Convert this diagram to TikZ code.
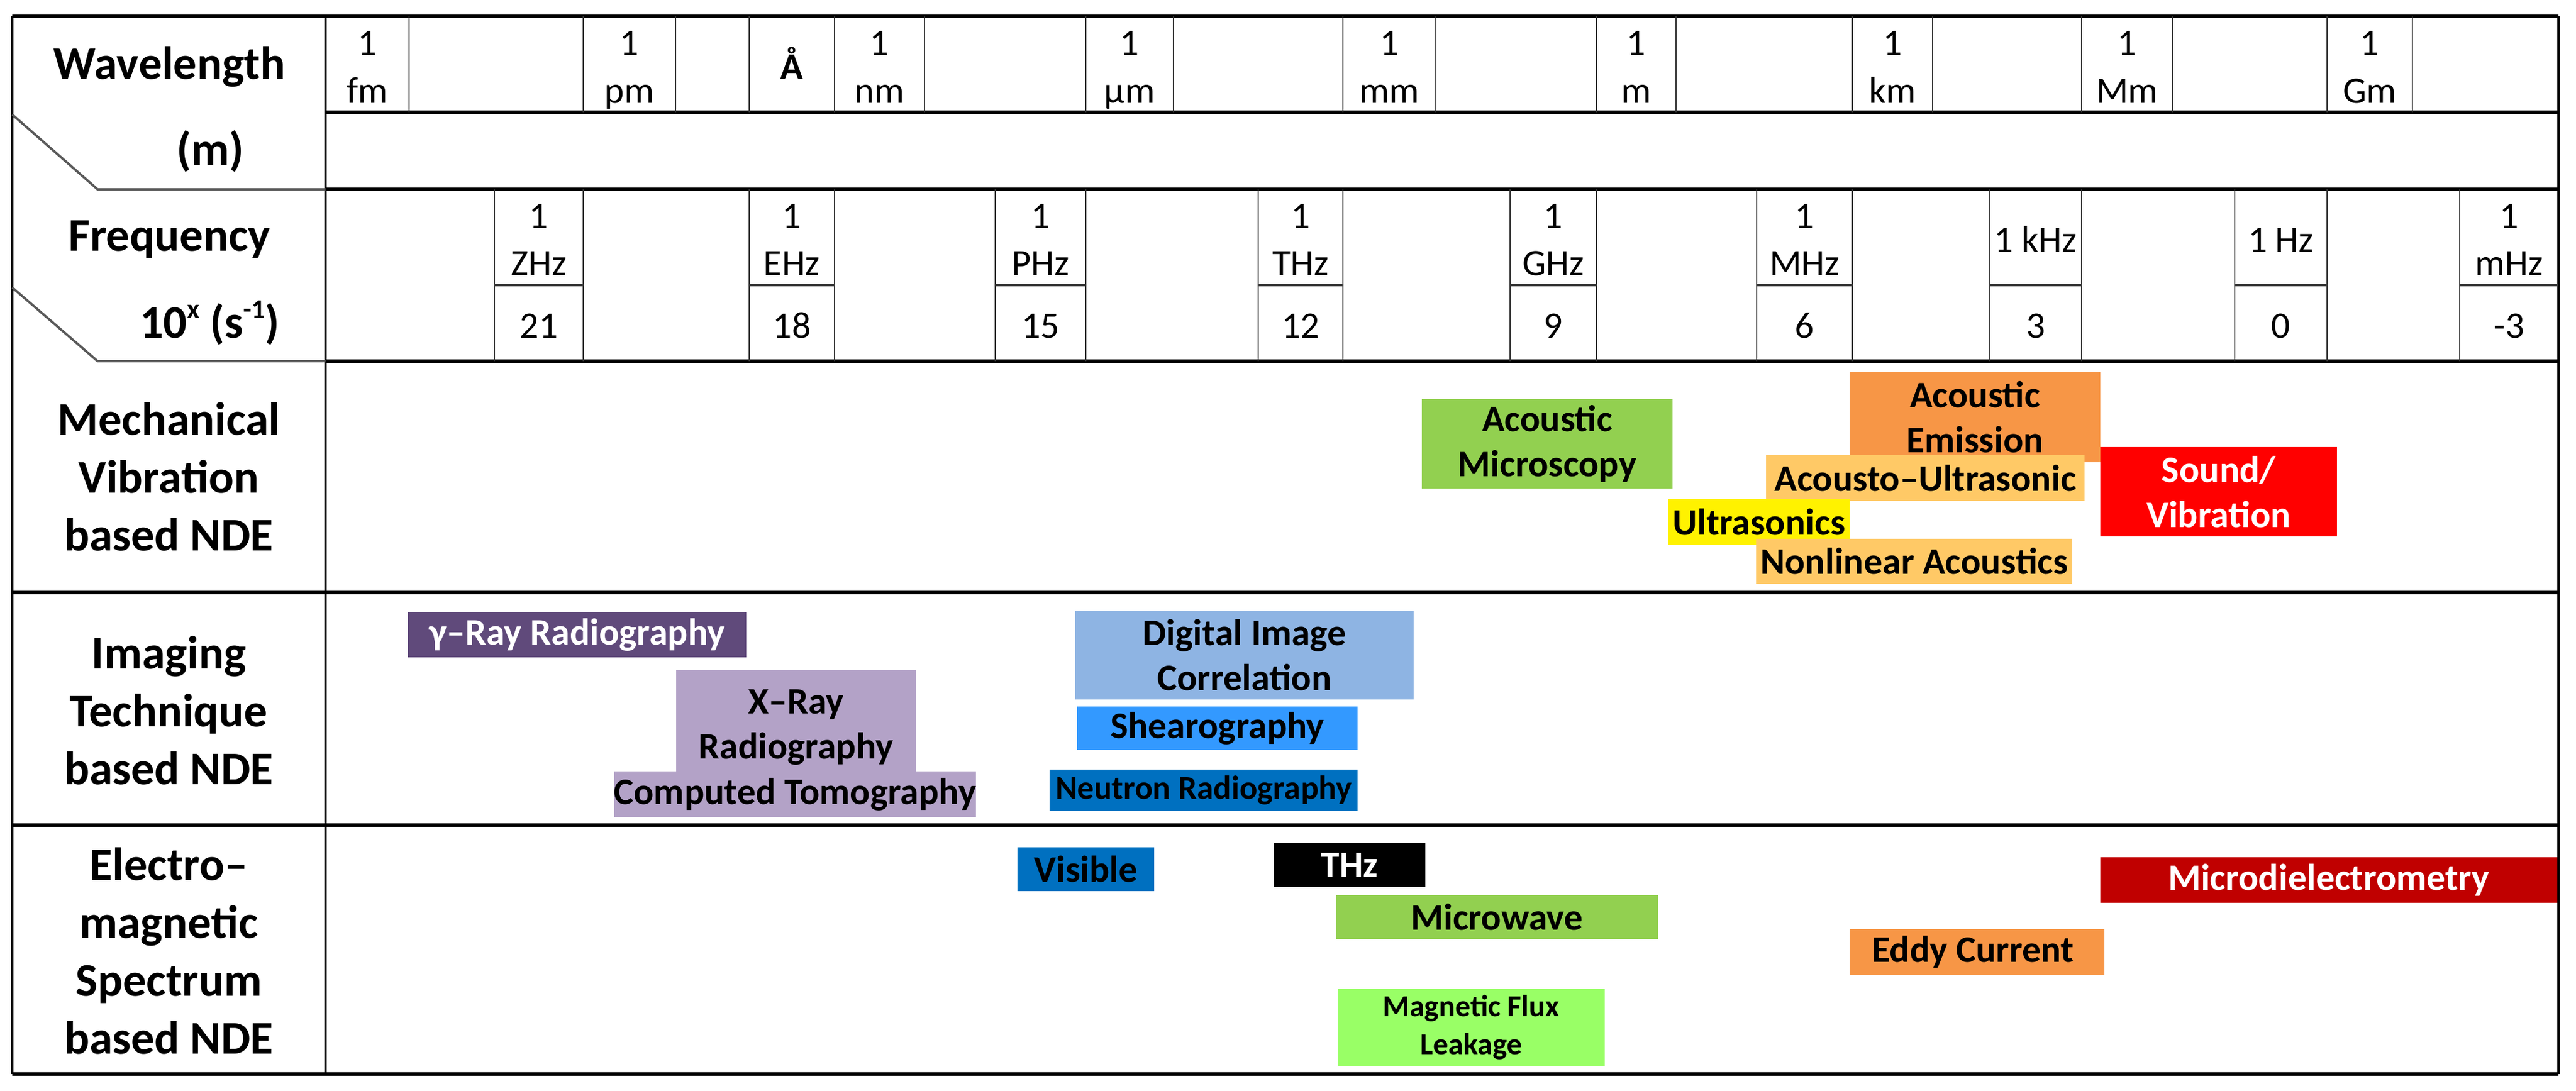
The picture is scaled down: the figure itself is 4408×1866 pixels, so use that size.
\documentclass[tikz,border=0pt]{standalone}
\usepackage{fontspec}
\setmainfont{Carlito}
\usepackage{tikz}
\definecolor{gammapurple}{HTML}{604A7B}
\definecolor{lilac}{HTML}{B3A2C7}
\definecolor{dicblue}{HTML}{8EB4E3}
\definecolor{shearblue}{HTML}{3399FF}
\definecolor{deepblue}{HTML}{0070C0}
\definecolor{leafgreen}{HTML}{92D050}
\definecolor{limegreen}{HTML}{99FF66}
\definecolor{amber}{HTML}{F79646}
\definecolor{sand}{HTML}{FFC966}
\definecolor{crimson}{HTML}{C00000}
\newcommand\upscript[1]{\raisebox{0.42em}{\fontsize{46}{46}\selectfont #1}}
\tikzset{
  tablerule/.style={line width=6pt, black},
  frameline/.style={line width=4pt, black},
  gridline/.style={line width=2.5pt, black!80},
  splitline/.style={line width=4pt, black!75},
  cutline/.style={line width=4pt, black!65},
  rowlabel/.style={font=\fontsize{80}{99}\selectfont\bfseries, align=center, inner sep=0pt},
  cell/.style={font=\fontsize{64}{77}\selectfont, inner sep=0pt, anchor=base},
  techbox/.style={inner sep=0pt, align=center, font=\fontsize{64}{77}\selectfont\bfseries},
}

\begin{document}
\begin{tikzpicture}[x=1pt, y=-1pt]
  \useasboundingbox (0,0) rectangle (4408,1866);

  % frame of the table
  \draw[tablerule] (21,28) -- (4378,28);
  \foreach \y in {192,324,618}
    \draw[tablerule] (557,\y) -- (4378,\y);
  \foreach \y in {1014,1412,1838}
    \draw[tablerule] (21,\y) -- (4378,\y);
  \foreach \x in {21,557,4378}
    \draw[frameline] (\x,28) -- (\x,1838);
  \draw[cutline] (21,196) -- (167,324) -- (557,324);
  \draw[cutline] (21,492) -- (167,618) -- (557,618);

  % wavelength scale
  \foreach \x in {700,998,1156,1282,1428,1582,1858,2008,2298,2457,2732,2868,3170,3307,3562,3718,3982,4128}
    \draw[gridline] (\x,28) -- (\x,192);
  \foreach \Xa/\Xb/\Unit [count=\i] in {557/700/fm, 998/1156/pm, 1428/1582/nm, 1858/2008/µm, 2298/2457/mm, 2732/2868/m, 3170/3307/km, 3562/3718/Mm, 3982/4128/Gm} {
    \node[cell] (wl\i) at ({(\Xa+\Xb)/2},94) {1};
    \node[cell] (wlu\i) at ({(\Xa+\Xb)/2},176) {\Unit};
  }
  \node[cell, font=\fontsize{64}{77}\selectfont\bfseries] (angstrom) at (1355,135) {Å};

  % frequency scale
  \foreach \x in {846,998,1282,1428,1703,1858,2153,2298,2584,2732,3006,3170,3405,3562,3824,3982,4209}
    \draw[gridline] (\x,324) -- (\x,618);
  \foreach \Xa/\Xb/\Unit/\Expo [count=\i] in {846/998/ZHz/21, 1282/1428/EHz/18, 1703/1858/PHz/15, 2153/2298/THz/12, 2584/2732/GHz/9, 3006/3170/MHz/6, 4209/4378/mHz/-3} {
    \draw[splitline] (\Xa,488) -- (\Xb,488);
    \node[cell] (fq\i) at ({(\Xa+\Xb)/2},390) {1};
    \node[cell] (fqu\i) at ({(\Xa+\Xb)/2},471) {\Unit};
    \node[cell] (fqx\i) at ({(\Xa+\Xb)/2},578) {\Expo};
  }
  \foreach \Xa/\Xb/\Unit/\Expo [count=\i] in {3405/3562/1 kHz/3, 3824/3982/1 Hz/0} {
    \draw[splitline] (\Xa,488) -- (\Xb,488);
    \node[cell] (lf\i) at ({(\Xa+\Xb)/2},431) {\Unit};
    \node[cell] (lfx\i) at ({(\Xa+\Xb)/2},578) {\Expo};
  }

  % row headings
  \node[rowlabel, anchor=base] (wavelength) at (290,135) {Wavelength};
  \node[rowlabel, anchor=base] (metre) at (360,282) {(m)};
  \node[rowlabel, anchor=base] (frequency) at (290,429) {Frequency};
  \node[rowlabel, anchor=base] (persecond) at (359,578) {10\upscript{x} (s\upscript{-1})};
  \node[rowlabel] (mechanical) at (289,816) {Mechanical\\Vibration\\based NDE};
  \node[rowlabel] (imaging) at (289,1216) {Imaging\\Technique\\based NDE};
  \node[rowlabel] (electro) at (289,1627) {Electro--\\magnetic\\Spectrum\\based NDE};

  % techniques
  \foreach \Name/\Xa/\Ya/\Xb/\Yb/\Fill/\Ink/\Txt in {
    acmic/2433/683/2862/836/leafgreen/black/{Acoustic\\Microscopy},
    acem/3165/636/3594/791/amber/black/{Acoustic\\Emission},
    acul/3022/779/3567/857/sand/black/{Acousto--Ultrasonic},
    sound/3594/765/3999/918/red/white/{Sound/\\Vibration},
    ultra/2855/854/3165/932/yellow/black/{Ultrasonics},
    nonlin/3005/922/3546/999/sand/black/{Nonlinear Acoustics},
    gamma/698/1048/1277/1125/gammapurple/white/{γ--Ray Radiography},
    xray/1157/1147/1567/1343/lilac/black/{X--Ray\\Radiography},
    ct/1052/1320/1669/1398/lilac/black/{Computed Tomography},
    dic/1840/1045/2419/1197/dicblue/black/{Digital Image\\Correlation},
    shear/1843/1209/2323/1283/shearblue/black/{Shearography},
    visible/1741/1450/1975/1525/deepblue/black/{Visible},
    thz/2180/1443/2439/1518/black/white/{THz},
    microwave/2286/1532/2837/1607/leafgreen/black/{Microwave},
    mdiel/3594/1467/4376/1545/crimson/white/{Microdielectrometry},
    eddy/3165/1590/3601/1668/amber/black/{Eddy Current}
  }
    \node[techbox, fill=\Fill, text=\Ink, minimum width={(\Xb-\Xa)*1pt}, minimum height={(\Yb-\Ya)*1pt}] (\Name) at ({(\Xa+\Xb)/2},{(\Ya+\Yb)/2}) {\Txt};
  \node[techbox, fill=deepblue, font=\fontsize{57}{68}\selectfont\bfseries, minimum width=527, minimum height=71] (neutron) at (2059.5,1352.5) {Neutron Radiography};
  \node[techbox, fill=limegreen, font=\fontsize{52}{65}\selectfont\bfseries, minimum width=457, minimum height=133] (mfl) at (2517.5,1758.5) {Magnetic Flux\\Leakage};

\end{tikzpicture}
\end{document}
